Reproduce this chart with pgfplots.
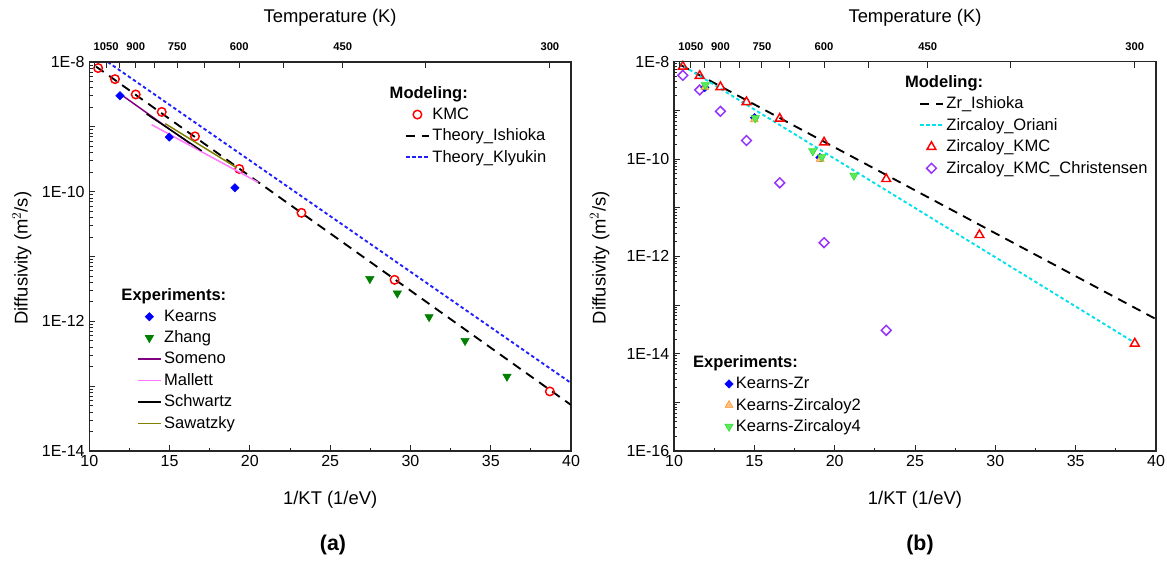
\documentclass[border=0pt]{standalone}
\usepackage{fontspec}
\setmainfont{Liberation Sans}
\usepackage{pgfplots}
\pgfplotsset{compat=1.18}
\definecolor{kmcred}{RGB}{255,0,0}
\definecolor{kblue}{RGB}{0,0,255}
\definecolor{kbluedot}{RGB}{30,30,255}
\definecolor{zgreen}{RGB}{0,128,0}
\definecolor{somenop}{RGB}{128,0,128}
\definecolor{mallettp}{RGB}{255,120,255}
\definecolor{olivec}{RGB}{128,128,0}
\definecolor{cyanc}{RGB}{0,225,235}
\definecolor{chrisv}{RGB}{150,50,255}
\definecolor{zrtwo}{RGB}{255,140,30}
\definecolor{zrfour}{RGB}{40,225,40}
\begin{document}
\begin{tikzpicture}
\path[use as bounding box] (0,0) rectangle (875.25pt,-420.75pt);

% ================= Panel (a) =================
\begin{axis}[scale only axis, xmin=10, xmax=40, ymode=log, ymin=1e-14, ymax=1e-8,
  at={(66.98pt,-338.25pt)}, anchor=south west, width=361.3pt, height=291.75pt,
  tick align=inside, axis line style={line width=1.1pt, black!85},
  major tick length=4.5pt, minor tick length=2.6pt,
  tick style={black!85, line width=0.7pt},
  tick label style={font=\fontsize{12}{14}\selectfont},
  label style={font=\fontsize{13.8}{16}\selectfont},
  xtick pos=left, ytick pos=left,
  xtick={10,15,20,25,30,35,40}, xticklabels={10,15,20,25,30,35,40},
  minor xtick={12.5,17.5,22.5,27.5,32.5,37.5},
  ytick={1e-14,1e-13,1e-12,1e-11,1e-10,1e-9,1e-8},
  yticklabels={1E-14,{},1E-12,{},1E-10,{},1E-8},
  minor ytick={2e-14,3e-14,4e-14,5e-14,6e-14,7e-14,8e-14,9e-14,
    2e-13,3e-13,4e-13,5e-13,6e-13,7e-13,8e-13,9e-13,
    2e-12,3e-12,4e-12,5e-12,6e-12,7e-12,8e-12,9e-12,
    2e-11,3e-11,4e-11,5e-11,6e-11,7e-11,8e-11,9e-11,
    2e-10,3e-10,4e-10,5e-10,6e-10,7e-10,8e-10,9e-10,
    2e-9,3e-9,4e-9,5e-9,6e-9,7e-9,8e-9,9e-9},
  xlabel={1/KT (1/eV)},
  xlabel style={at={(axis description cs:0.5,-0.126)}, anchor=center},
  ylabel={Diffusivity (m$^{2}$/s)},
  ylabel style={at={(axis description cs:-0.14,0.496)}, anchor=center},
  legend style={draw=none, fill=none, font=\fontsize{12.4}{14}\selectfont,
      legend cell align=left, row sep=1.6pt, inner sep=0pt,
      at={(axis description cs:0.655,0.945)}, anchor=north west},
]
\addlegendimage{empty legend}
\addlegendentry{\hspace{-32pt}\textbf{Modeling:}}
\addplot[only marks, mark=o, mark size=3.2pt, draw=kmcred, line width=1.1pt] coordinates {
 (10.55,8.07e-9) (11.60,5.45e-9) (12.89,3.16e-9) (14.51,1.70e-9) (16.58,7.13e-10)
 (19.34,2.24e-10) (23.21,4.72e-11) (29.01,4.37e-12) (38.68,8.3e-14)};
\addlegendentry{KMC}
\addplot[black, line width=1.4pt, dash pattern=on 7pt off 5pt] coordinates {(10.42,8.51e-9) (40,5.13e-14)};
\addlegendentry{Theory\_Ishioka}
\addplot[kbluedot, line width=1.4pt, dash pattern=on 2.6pt off 2pt] coordinates {(11.15,1.0e-8) (40,1.12e-13)};
\addlegendentry{Theory\_Klyukin}
\end{axis}

\begin{axis}[scale only axis, xmin=10, xmax=40, ymode=log, ymin=1e-14, ymax=1e-8,
  at={(66.98pt,-338.25pt)}, anchor=south west, width=361.3pt, height=291.75pt,
  axis x line*=top, axis y line=none, x axis line style={-, line width=1.1pt, black!85},
  tick align=inside, major tick length=4.5pt, minor tick length=4.5pt,
  tick style={black!85, line width=0.7pt},
  xtick={11.0519,12.8939,15.4727,19.3409,25.7879,38.6818},
  xticklabels={1050,900,750,600,450,300},
  minor xtick={10.3151,11.9021,14.0661,17.1919,22.1039,30.9454},
  xticklabel style={font=\bfseries\fontsize{8.4}{10}\selectfont, yshift=5pt},
  xlabel={Temperature (K)},
  label style={font=\fontsize{13.8}{16}\selectfont},
  xlabel style={at={(axis description cs:0.5,1.113)}, anchor=center},
  legend style={draw=none, fill=none, font=\fontsize{12.4}{14}\selectfont,
      legend cell align=left, row sep=1.6pt, inner sep=0pt,
      at={(axis description cs:0.099,0.425)}, anchor=north west},
]
\addlegendimage{empty legend}
\addlegendentry{\hspace{-32pt}\textbf{Experiments:}}
\addplot[only marks, mark=square*, mark size=2.2pt, mark options={rotate=45}, color=kblue] coordinates {
 (11.91,3.02e-9) (14.98,6.95e-10) (19.07,1.15e-10)};
\addlegendentry{Kearns}
\addplot[only marks, mark=triangle*, mark size=3.6pt, mark options={rotate=180}, color=zgreen] coordinates {
 (27.47,4.52e-12) (29.18,2.71e-12) (31.16,1.17e-12) (33.40,5.01e-13) (36.01,1.41e-13)};
\addlegendentry{Zhang}
\addplot[somenop, line width=1.1pt] coordinates {(12.12,2.97e-9) (16.27,5.50e-10)};
\addlegendentry{Someno}
\addplot[mallettp, line width=1.1pt] coordinates {(13.88,1.08e-9) (20.52,1.39e-10)};
\addlegendentry{Mallett}
\addplot[black, line width=1.1pt] coordinates {(13.57,1.58e-9) (17.0,4.27e-10)};
\addlegendentry{Schwartz}
\addplot[olivec, line width=1.1pt] coordinates {(14.73,1.12e-9) (19.18,2.34e-10)};
\addlegendentry{Sawatzky}
\end{axis}

% ================= Panel (b) =================
\begin{axis}[scale only axis, xmin=10, xmax=40, ymode=log, ymin=1e-16, ymax=1e-8,
  at={(505.5pt,-338.25pt)}, anchor=south west, width=361.5pt, height=292pt,
  tick align=inside, axis line style={line width=1.1pt, black!85},
  major tick length=4.5pt, minor tick length=2.6pt,
  tick style={black!85, line width=0.7pt},
  tick label style={font=\fontsize{12}{14}\selectfont},
  label style={font=\fontsize{13.8}{16}\selectfont},
  xtick pos=left, ytick pos=left,
  xtick={10,15,20,25,30,35,40}, xticklabels={10,15,20,25,30,35,40},
  minor xtick={12.5,17.5,22.5,27.5,32.5,37.5},
  ytick={1e-16,1e-15,1e-14,1e-13,1e-12,1e-11,1e-10,1e-9,1e-8},
  yticklabels={1E-16,{},1E-14,{},1E-12,{},1E-10,{},1E-8},
  minor ytick={2e-16,3e-16,4e-16,5e-16,6e-16,7e-16,8e-16,9e-16,
    2e-15,3e-15,4e-15,5e-15,6e-15,7e-15,8e-15,9e-15,
    2e-14,3e-14,4e-14,5e-14,6e-14,7e-14,8e-14,9e-14,
    2e-13,3e-13,4e-13,5e-13,6e-13,7e-13,8e-13,9e-13,
    2e-12,3e-12,4e-12,5e-12,6e-12,7e-12,8e-12,9e-12,
    2e-11,3e-11,4e-11,5e-11,6e-11,7e-11,8e-11,9e-11,
    2e-10,3e-10,4e-10,5e-10,6e-10,7e-10,8e-10,9e-10,
    2e-9,3e-9,4e-9,5e-9,6e-9,7e-9,8e-9,9e-9},
  xlabel={1/KT (1/eV)},
  xlabel style={at={(axis description cs:0.5,-0.126)}, anchor=center},
  ylabel={Diffusivity (m$^{2}$/s)},
  ylabel style={at={(axis description cs:-0.154,0.496)}, anchor=center},
  legend style={draw=none, fill=none, font=\fontsize{12.4}{14}\selectfont,
      legend cell align=left, row sep=1.6pt, inner sep=0pt,
      at={(axis description cs:0.508,0.972)}, anchor=north west},
]
\addlegendimage{empty legend}
\addlegendentry{\hspace{-31pt}\textbf{Modeling:}}
\addplot[black, line width=1.4pt, dash pattern=on 7pt off 5pt] coordinates {(10.42,8.51e-9) (40,5.13e-14)};
\addlegendentry{Zr\_Ishioka}
\addplot[cyanc, line width=1.4pt, dash pattern=on 2.6pt off 2pt] coordinates {(10.3,9.33e-9) (38.6,1.74e-14)};
\addlegendentry{Zircaloy\_Oriani}
\addplot[only marks, mark=triangle, mark size=3.8pt, draw=kmcred, line width=1.1pt] coordinates {
 (10.55,7.94e-9) (11.60,5.13e-9) (12.89,3.02e-9) (14.51,1.48e-9) (16.58,6.76e-10)
 (19.34,2.19e-10) (23.21,3.89e-11) (29.01,2.75e-12) (38.68,1.62e-14)};
\addlegendentry{Zircaloy\_KMC}
\addplot[only marks, mark=square, mark size=2.6pt, mark options={rotate=45}, draw=chrisv, line width=1.1pt] coordinates {
 (10.55,5.25e-9) (11.60,2.63e-9) (12.89,9.55e-10) (14.51,2.40e-10) (16.58,3.24e-11)
 (19.34,1.91e-12) (23.21,3.02e-14)};
\addlegendentry{Zircaloy\_KMC\_Christensen}
\end{axis}

\begin{axis}[scale only axis, xmin=10, xmax=40, ymode=log, ymin=1e-16, ymax=1e-8,
  at={(505.5pt,-338.25pt)}, anchor=south west, width=361.5pt, height=292pt,
  axis x line*=top, axis y line=none, x axis line style={-, line width=1.1pt, black!85},
  tick align=inside, major tick length=4.5pt, minor tick length=4.5pt,
  tick style={black!85, line width=0.7pt},
  xtick={11.0519,12.8939,15.4727,19.3409,25.7879,38.6818},
  xticklabels={1050,900,750,600,450,300},
  minor xtick={10.3151,11.9021,14.0661,17.1919,22.1039,30.9454},
  xticklabel style={font=\bfseries\fontsize{8.4}{10}\selectfont, yshift=5pt},
  xlabel={Temperature (K)},
  label style={font=\fontsize{13.8}{16}\selectfont},
  xlabel style={at={(axis description cs:0.5,1.113)}, anchor=center},
  legend style={draw=none, fill=none, font=\fontsize{12.4}{14}\selectfont,
      legend cell align=left, row sep=1.6pt, inner sep=0pt,
      at={(axis description cs:0.09,0.252)}, anchor=north west},
]
\addlegendimage{empty legend}
\addlegendentry{\hspace{-32pt}\textbf{Experiments:}}
\addplot[only marks, mark=square*, mark size=2.2pt, mark options={rotate=45}, color=kblue] coordinates {
 (11.92,2.95e-9) (15.01,7.08e-10) (19.08,1.07e-10)};
\addlegendentry{Kearns-Zr}
\addplot[only marks, mark=triangle*, mark size=3.4pt, draw=zrtwo, fill=zrtwo!55] coordinates {
 (11.92,3.0e-9) (15.00,6.46e-10) (19.10,1.0e-10)};
\addlegendentry{Kearns-Zircaloy2}
\addplot[only marks, mark=triangle*, mark size=3.6pt, mark options={rotate=180}, draw=zrfour, fill=zrfour!75] coordinates {
 (11.95,3.31e-9) (15.06,6.92e-10) (18.64,1.45e-10) (19.20,1.10e-10) (21.20,4.57e-11)};
\addlegendentry{Kearns-Zircaloy4}
\end{axis}

\node[font=\bfseries\fontsize{16}{18}\selectfont] at (249.75pt,-408.75pt) {(a)};
\node[font=\bfseries\fontsize{16}{18}\selectfont] at (690pt,-408.75pt) {(b)};
\end{tikzpicture}
\end{document}
